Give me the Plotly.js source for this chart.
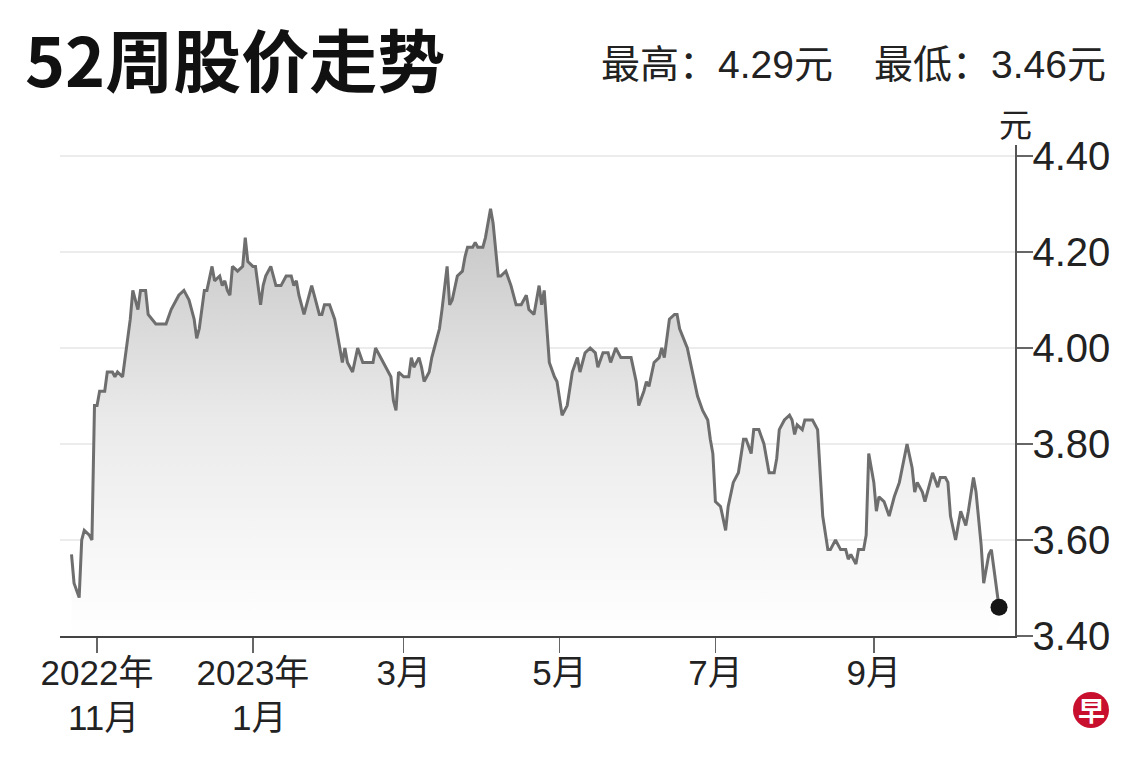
<!DOCTYPE html>
<html>
<head>
<meta charset="utf-8">
<script src="https://cdn.plot.ly/plotly-3.0.1.min.js"></script>
<style>
  html, body { margin: 0; padding: 0; background: #fff; }
  #chart { width: 1140px; height: 761px; }
</style>
</head>
<body>
<div id="chart"></div>
<script>
// 52-week share price (vertices of the line)
const dates = [
  '2022-10-22', '2022-10-23', '2022-10-25', '2022-10-26', '2022-10-27', '2022-10-29', '2022-10-30', '2022-10-31',
  '2022-11-01', '2022-11-02', '2022-11-04', '2022-11-05', '2022-11-07', '2022-11-08', '2022-11-09', '2022-11-11',
  '2022-11-13', '2022-11-14', '2022-11-15', '2022-11-17', '2022-11-18', '2022-11-20', '2022-11-21', '2022-11-24',
  '2022-11-28', '2022-11-30',
  '2022-12-02', '2022-12-03', '2022-12-05', '2022-12-07', '2022-12-09', '2022-12-10', '2022-12-11', '2022-12-13',
  '2022-12-14', '2022-12-16', '2022-12-17', '2022-12-19', '2022-12-20', '2022-12-21', '2022-12-22', '2022-12-23',
  '2022-12-24', '2022-12-26', '2022-12-28', '2022-12-29', '2022-12-30',
  '2023-01-01', '2023-01-02', '2023-01-03', '2023-01-04', '2023-01-05', '2023-01-06', '2023-01-08', '2023-01-10',
  '2023-01-12', '2023-01-13', '2023-01-14', '2023-01-16', '2023-01-17', '2023-01-18', '2023-01-19', '2023-01-21',
  '2023-01-23', '2023-01-24', '2023-01-25', '2023-01-27', '2023-01-28', '2023-01-29', '2023-01-31',
  '2023-02-02', '2023-02-03', '2023-02-05', '2023-02-06', '2023-02-07', '2023-02-09', '2023-02-11', '2023-02-13',
  '2023-02-15', '2023-02-17', '2023-02-18', '2023-02-19', '2023-02-20', '2023-02-22', '2023-02-24', '2023-02-25',
  '2023-02-26', '2023-02-27',
  '2023-03-01', '2023-03-03', '2023-03-04', '2023-03-05', '2023-03-07', '2023-03-08', '2023-03-09', '2023-03-11',
  '2023-03-12', '2023-03-13', '2023-03-15', '2023-03-16', '2023-03-18', '2023-03-19', '2023-03-20', '2023-03-22',
  '2023-03-24', '2023-03-25', '2023-03-26', '2023-03-28', '2023-03-29', '2023-03-30',
  '2023-04-01', '2023-04-02', '2023-04-04', '2023-04-05', '2023-04-06', '2023-04-07', '2023-04-08', '2023-04-10',
  '2023-04-12', '2023-04-14', '2023-04-16', '2023-04-18', '2023-04-19', '2023-04-21', '2023-04-23', '2023-04-24',
  '2023-04-25', '2023-04-27', '2023-04-29', '2023-04-30',
  '2023-05-02', '2023-05-04', '2023-05-06', '2023-05-08', '2023-05-09', '2023-05-11', '2023-05-13', '2023-05-15',
  '2023-05-16', '2023-05-18', '2023-05-20', '2023-05-21', '2023-05-23', '2023-05-25', '2023-05-27', '2023-05-29',
  '2023-05-31',
  '2023-06-01', '2023-06-03', '2023-06-04', '2023-06-05', '2023-06-07', '2023-06-09', '2023-06-10', '2023-06-11',
  '2023-06-13', '2023-06-15', '2023-06-16', '2023-06-17', '2023-06-20', '2023-06-22', '2023-06-24', '2023-06-26',
  '2023-06-28', '2023-06-29', '2023-06-30',
  '2023-07-01', '2023-07-03', '2023-07-05', '2023-07-06', '2023-07-08', '2023-07-10', '2023-07-12', '2023-07-13',
  '2023-07-15', '2023-07-16', '2023-07-18', '2023-07-20', '2023-07-22', '2023-07-24', '2023-07-25', '2023-07-26',
  '2023-07-28', '2023-07-30', '2023-07-31',
  '2023-08-01', '2023-08-02', '2023-08-04', '2023-08-05', '2023-08-07', '2023-08-08', '2023-08-10', '2023-08-11',
  '2023-08-12', '2023-08-14', '2023-08-15', '2023-08-17', '2023-08-19', '2023-08-21', '2023-08-22', '2023-08-23',
  '2023-08-25', '2023-08-26', '2023-08-28', '2023-08-29', '2023-08-30',
  '2023-09-01', '2023-09-02', '2023-09-03', '2023-09-05', '2023-09-07', '2023-09-09', '2023-09-11', '2023-09-13',
  '2023-09-14', '2023-09-16', '2023-09-17', '2023-09-18', '2023-09-20', '2023-09-21', '2023-09-22', '2023-09-24',
  '2023-09-26', '2023-09-27', '2023-09-29', '2023-09-30',
  '2023-10-01', '2023-10-03', '2023-10-04', '2023-10-05', '2023-10-07', '2023-10-08', '2023-10-10', '2023-10-11',
  '2023-10-13', '2023-10-14', '2023-10-16', '2023-10-17', '2023-10-18', '2023-10-20',
];

const prices = [
  3.57, 3.51, 3.48, 3.60, 3.62, 3.61, 3.60, 3.88,
  3.88, 3.91, 3.91, 3.95, 3.95, 3.94, 3.95, 3.94,
  4.02, 4.06, 4.12, 4.08, 4.12, 4.12, 4.07, 4.05,
  4.05, 4.08,
  4.10, 4.11, 4.12, 4.10, 4.06, 4.02, 4.04, 4.12,
  4.12, 4.17, 4.14, 4.15, 4.13, 4.14, 4.12, 4.11,
  4.17, 4.16, 4.17, 4.23, 4.18,
  4.17, 4.17, 4.13, 4.09, 4.13, 4.15, 4.17, 4.13,
  4.13, 4.14, 4.15, 4.15, 4.13, 4.14, 4.11, 4.07,
  4.11, 4.13, 4.11, 4.07, 4.07, 4.09, 4.09,
  4.06, 4.03, 3.97, 4.00, 3.97, 3.95, 4.00, 3.97,
  3.97, 3.97, 4.00, 3.99, 3.98, 3.96, 3.94, 3.89,
  3.87, 3.95,
  3.94, 3.94, 3.98, 3.96, 3.98, 3.96, 3.93, 3.95,
  3.98, 4.00, 4.04, 4.08, 4.17, 4.09, 4.10, 4.15,
  4.16, 4.19, 4.21, 4.21, 4.22, 4.21,
  4.21, 4.23, 4.29, 4.26, 4.20, 4.15, 4.15, 4.16,
  4.13, 4.09, 4.09, 4.11, 4.08, 4.07, 4.13, 4.09,
  4.12, 3.97, 3.94, 3.93,
  3.86, 3.88, 3.95, 3.98, 3.95, 3.99, 4.00, 3.99,
  3.96, 3.99, 3.99, 3.97, 4.00, 3.98, 3.98, 3.98,
  3.93,
  3.88, 3.91, 3.93, 3.92, 3.97, 3.98, 4.00, 3.98,
  4.06, 4.07, 4.07, 4.04, 4.00, 3.95, 3.90, 3.87,
  3.85, 3.81, 3.78,
  3.68, 3.67, 3.62, 3.67, 3.72, 3.74, 3.81, 3.81,
  3.78, 3.83, 3.83, 3.80, 3.74, 3.74, 3.77, 3.83,
  3.85, 3.86, 3.85,
  3.82, 3.84, 3.83, 3.85, 3.85, 3.85, 3.83, 3.73,
  3.65, 3.58, 3.58, 3.60, 3.58, 3.58, 3.56, 3.57,
  3.55, 3.58, 3.58, 3.61, 3.78,
  3.72, 3.66, 3.69, 3.68, 3.65, 3.69, 3.72, 3.77,
  3.80, 3.75, 3.70, 3.72, 3.70, 3.68, 3.70, 3.74,
  3.71, 3.73, 3.73, 3.72,
  3.65, 3.60, 3.63, 3.66, 3.63, 3.66, 3.73, 3.70,
  3.59, 3.51, 3.57, 3.58, 3.54, 3.46,
];

const xTickVals = ['2022-11-01', '2023-01-01', '2023-03-01', '2023-05-01', '2023-07-01', '2023-09-01'];
const xTickText = ['2022年', '2023年', '3月', '5月', '7月', '9月'];
// month line printed under the year labels
const xSubVals = ['2022-11-01', '2023-01-01'];
const xSubText = ['11月', '1月'];
const yTickVals = [3.4, 3.6, 3.8, 4.0, 4.2, 4.4];

const LATIN = 'Liberation Sans, Arial, Noto Sans CJK SC, sans-serif';
const CJK = 'Noto Sans CJK SC, sans-serif';

const hi = Math.max(...prices);
const lo = Math.min(...prices);
const last = prices.length - 1;

const traces = [
  {
    // price line with the grey-to-white fill under it
    x: dates,
    y: prices,
    type: 'scatter',
    mode: 'lines',
    line: { color: '#6e6e6e', width: 3 },
    fill: 'tozeroy',
    fillgradient: {
      type: 'vertical',
      start: 3.4,
      stop: 4.3,
      colorscale: [[0, '#ffffff'], [0.5, '#eaeaea'], [1, '#c4c4c4']],
    },
    hoverinfo: 'skip',
  },
  {
    // latest close
    x: [dates[last]],
    y: [prices[last]],
    type: 'scatter',
    mode: 'markers',
    marker: { color: '#161616', size: 17 },
    cliponaxis: false,
    hoverinfo: 'skip',
  },
];

const annotations = [
  {
    text: '<b>52周股价走势</b>',
    xref: 'paper', yref: 'paper',
    x: -0.039, y: 1.178, xanchor: 'left', yanchor: 'middle',
    showarrow: false,
    font: { family: CJK, size: 68, color: '#111' },
  },
  {
    text: '最高：' + hi.toFixed(2) + '元',
    xref: 'paper', yref: 'paper',
    x: 0.8115, y: 1.163, xanchor: 'right', yanchor: 'middle',
    showarrow: false,
    font: { family: LATIN, size: 39, color: '#222' },
  },
  {
    text: '最低：' + lo.toFixed(2) + '元',
    xref: 'paper', yref: 'paper',
    x: 1.0974, y: 1.163, xanchor: 'right', yanchor: 'middle',
    showarrow: false,
    font: { family: LATIN, size: 39, color: '#222' },
  },
  {
    text: '元',
    xref: 'paper', yref: 'paper',
    x: 1.0, y: 1.044, xanchor: 'center', yanchor: 'middle',
    showarrow: false,
    font: { family: CJK, size: 33, color: '#222' },
  },
  {
    text: '<b>早</b>',
    xref: 'paper', yref: 'paper',
    x: 1.0796, y: -0.1507, xanchor: 'center', yanchor: 'middle',
    showarrow: false,
    font: { family: CJK, size: 27, color: '#ffffff' },
  },
];

xSubVals.forEach((d, i) => {
  annotations.push({
    text: xSubText[i],
    xref: 'x', yref: 'paper',
    x: d, y: -0.165, xanchor: 'center', yanchor: 'middle',
    xshift: 6,
    showarrow: false,
    font: { family: LATIN, size: 35, color: '#222' },
  });
});

const layout = {
  width: 1140,
  height: 761,
  margin: { l: 60, r: 125, t: 145, b: 125 },
  paper_bgcolor: '#ffffff',
  plot_bgcolor: '#ffffff',
  showlegend: false,
  font: { family: LATIN, color: '#222' },
  xaxis: {
    type: 'date',
    range: ['2022-10-17 12:00', '2023-10-26 06:00'],
    tickvals: xTickVals,
    ticktext: xTickText,
    ticks: 'outside',
    ticklen: 15,
    tickwidth: 1.5,
    tickcolor: '#666',
    ticklabelstandoff: -10,
    tickfont: { family: LATIN, size: 35, color: '#222' },
    showline: true,
    linecolor: '#444',
    linewidth: 2,
    showgrid: false,
    zeroline: false,
    fixedrange: true,
  },
  yaxis: {
    side: 'right',
    range: [3.4, 4.4229],
    tickvals: yTickVals,
    tickformat: '.2f',
    ticks: 'outside',
    ticklen: 16,
    tickwidth: 1.5,
    tickcolor: '#666',
    ticklabelstandoff: -8,
    tickfont: { family: LATIN, size: 40, color: '#222' },
    showline: true,
    linecolor: '#555',
    linewidth: 1.5,
    showgrid: true,
    gridcolor: '#ececec',
    gridwidth: 2,
    zeroline: false,
    fixedrange: true,
  },
  shapes: [
    {
      // zaobao badge
      type: 'circle',
      xref: 'paper', yref: 'paper',
      xsizemode: 'pixel', ysizemode: 'pixel',
      xanchor: 1, yanchor: 0,
      x0: 58, x1: 94, y0: -92, y1: -56,
      fillcolor: '#c8102e',
      line: { width: 0 },
    },
  ],
  annotations: annotations,
};

Plotly.newPlot('chart', traces, layout, { displayModeBar: false, staticPlot: true });
</script>
</body>
</html>
